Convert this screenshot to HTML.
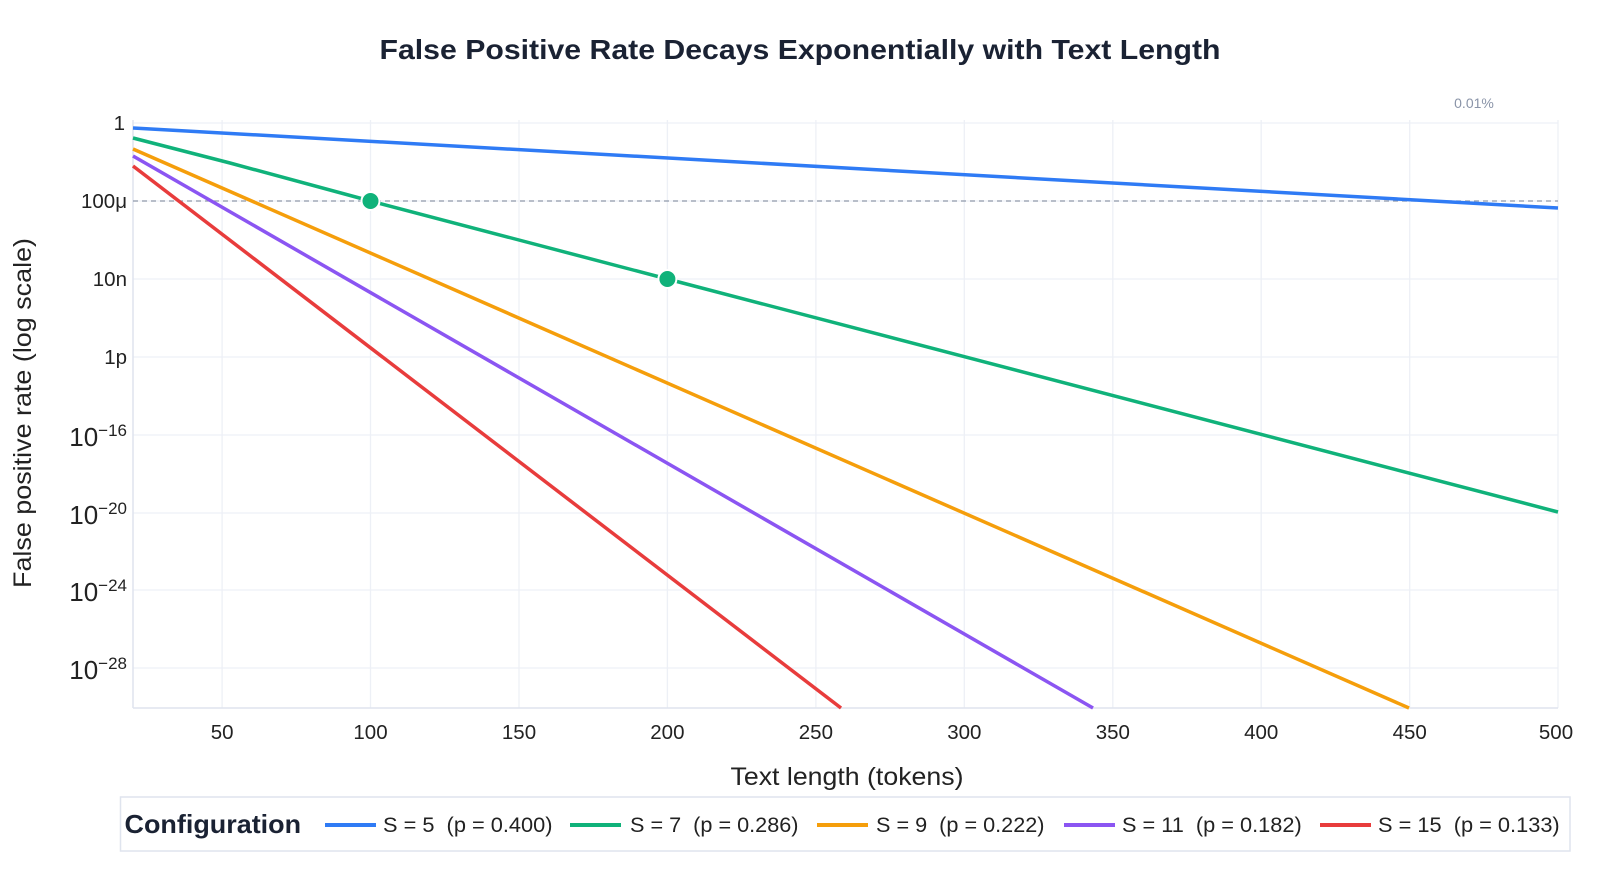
<!DOCTYPE html>
<html><head><meta charset="utf-8"><style>
html,body{margin:0;padding:0;background:#fff;}
svg text{font-family:"Liberation Sans",Arial,sans-serif;}
</style></head><body>
<svg width="1600" height="876" viewBox="0 0 1600 876" xmlns="http://www.w3.org/2000/svg">
<rect width="1600" height="876" fill="#fff"/>
<text x="800" y="59" text-anchor="middle" font-size="28" font-weight="bold" fill="#1a2233" textLength="841" lengthAdjust="spacingAndGlyphs">False Positive Rate Decays Exponentially with Text Length</text>
<g stroke="#edf0f6" stroke-width="1.3">
<line x1="222.1" y1="120" x2="222.1" y2="708"/>
<line x1="370.5" y1="120" x2="370.5" y2="708"/>
<line x1="519" y1="120" x2="519" y2="708"/>
<line x1="667.4" y1="120" x2="667.4" y2="708"/>
<line x1="815.9" y1="120" x2="815.9" y2="708"/>
<line x1="964.3" y1="120" x2="964.3" y2="708"/>
<line x1="1112.8" y1="120" x2="1112.8" y2="708"/>
<line x1="1261.2" y1="120" x2="1261.2" y2="708"/>
<line x1="1409.7" y1="120" x2="1409.7" y2="708"/>
<line x1="1558" y1="120" x2="1558" y2="708"/>
<line x1="133" y1="123" x2="1558" y2="123"/>
<line x1="133" y1="201" x2="1558" y2="201"/>
<line x1="133" y1="279" x2="1558" y2="279"/>
<line x1="133" y1="357" x2="1558" y2="357"/>
<line x1="133" y1="435" x2="1558" y2="435"/>
<line x1="133" y1="513" x2="1558" y2="513"/>
<line x1="133" y1="590" x2="1558" y2="590"/>
<line x1="133" y1="668" x2="1558" y2="668"/>
</g>
<line x1="133" y1="120" x2="133" y2="708" stroke="#dfe4ee" stroke-width="1.5"/>
<line x1="133" y1="708" x2="1558" y2="708" stroke="#dfe4ee" stroke-width="1.5"/>
<line x1="133" y1="201" x2="1558" y2="201" stroke="#8f99aa" stroke-width="1.3" stroke-dasharray="5,4"/>
<text x="1474" y="108" text-anchor="middle" font-size="14" fill="#8a94a8">0.01%</text>
<g stroke-width="3.5" fill="none">
<polyline stroke="#2f7bf5" points="133,128 1558,208"/>
<polyline stroke="#10b27a" points="133,138 230,163 370.5,201 667.4,279 1558,512"/>
<polyline stroke="#f59e0b" points="133,149 1409,708"/>
<polyline stroke="#8b55f2" points="133,156 1093,708"/>
<polyline stroke="#e83c3c" points="133,166 841,708"/>
</g>
<circle cx="370.5" cy="201" r="9" fill="#10b27a" stroke="#fff" stroke-width="2"/>
<circle cx="667.4" cy="279" r="9" fill="#10b27a" stroke="#fff" stroke-width="2"/>
<g font-size="20.5" fill="#222" text-anchor="end">
<text x="125" y="130">1</text>
<text x="127" y="208">100μ</text>
<text x="127" y="286">10n</text>
<text x="127" y="364">1p</text>
</g>
<g font-size="26" fill="#222" text-anchor="end">
<text x="127" y="446">10<tspan font-size="17" dy="-10">−16</tspan></text>
<text x="127" y="524">10<tspan font-size="17" dy="-10">−20</tspan></text>
<text x="127" y="601">10<tspan font-size="17" dy="-10">−24</tspan></text>
<text x="127" y="679">10<tspan font-size="17" dy="-10">−28</tspan></text>
</g>
<g font-size="20.5" fill="#222" text-anchor="middle">
<text x="222.1" y="739">50</text>
<text x="370.5" y="739">100</text>
<text x="519" y="739">150</text>
<text x="667.4" y="739">200</text>
<text x="815.9" y="739">250</text>
<text x="964.3" y="739">300</text>
<text x="1112.8" y="739">350</text>
<text x="1261.2" y="739">400</text>
<text x="1409.7" y="739">450</text>
<text x="1556" y="739">500</text>
</g>
<text x="847" y="785" text-anchor="middle" font-size="25" fill="#222" textLength="233" lengthAdjust="spacingAndGlyphs">Text length (tokens)</text>
<text transform="translate(31,413) rotate(-90)" text-anchor="middle" font-size="25" fill="#222" textLength="350" lengthAdjust="spacingAndGlyphs">False positive rate (log scale)</text>
<rect x="120.5" y="797" width="1449.5" height="54" fill="#fff" stroke="#dfe4ee" stroke-width="1.5"/>
<text x="124.5" y="833" font-size="26" font-weight="bold" fill="#1a2233" textLength="176.6" lengthAdjust="spacingAndGlyphs">Configuration</text>
<g stroke-width="4">
<line x1="325" y1="825" x2="376" y2="825" stroke="#2f7bf5"/>
<line x1="570" y1="825" x2="621" y2="825" stroke="#10b27a"/>
<line x1="817" y1="825" x2="868" y2="825" stroke="#f59e0b"/>
<line x1="1064" y1="825" x2="1115" y2="825" stroke="#8b55f2"/>
<line x1="1320" y1="825" x2="1371" y2="825" stroke="#e83c3c"/>
</g>
<g font-size="21" fill="#222">
<text x="383" y="832" xml:space="preserve" textLength="169.5" lengthAdjust="spacingAndGlyphs">S = 5  (p = 0.400)</text>
<text x="630" y="832" xml:space="preserve" textLength="168.5" lengthAdjust="spacingAndGlyphs">S = 7  (p = 0.286)</text>
<text x="876" y="832" xml:space="preserve" textLength="168.5" lengthAdjust="spacingAndGlyphs">S = 9  (p = 0.222)</text>
<text x="1122" y="832" xml:space="preserve" textLength="179.7" lengthAdjust="spacingAndGlyphs">S = 11  (p = 0.182)</text>
<text x="1378" y="832" xml:space="preserve" textLength="181.7" lengthAdjust="spacingAndGlyphs">S = 15  (p = 0.133)</text>
</g>
</svg>
</body></html>
